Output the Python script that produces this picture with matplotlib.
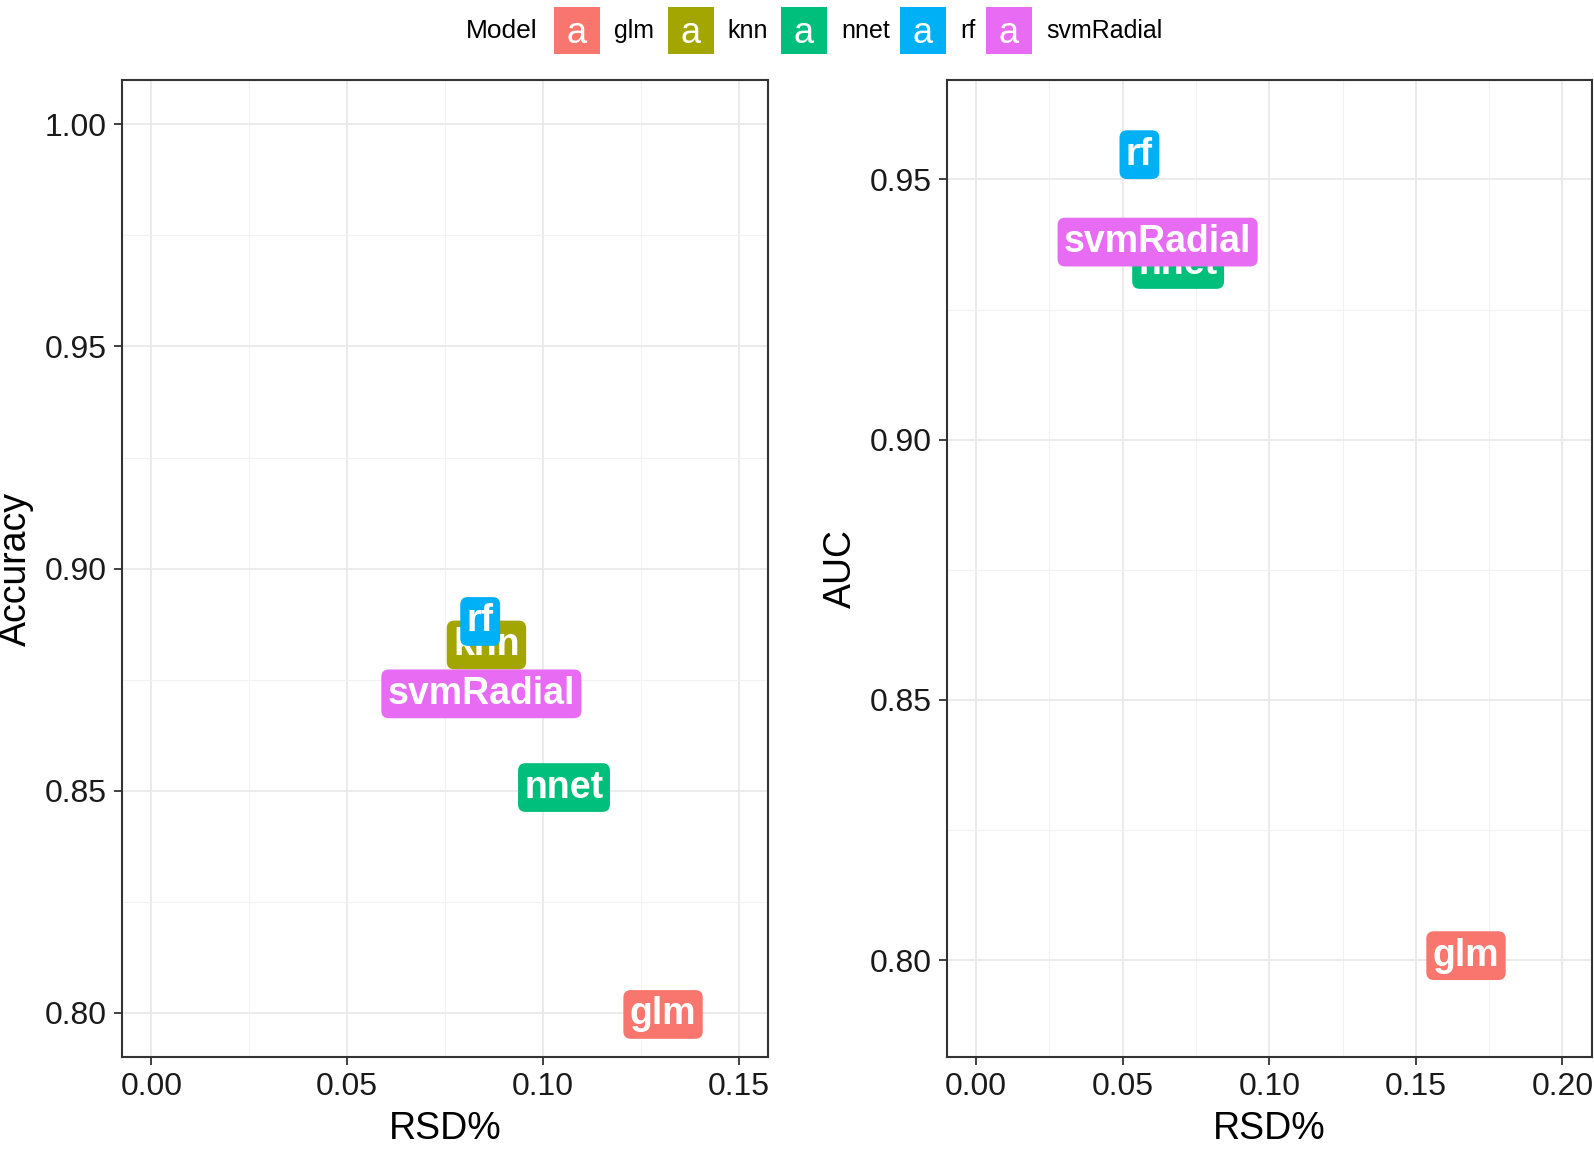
import matplotlib
matplotlib.use("Agg")
import matplotlib.pyplot as plt
import matplotlib.patches as mpatches

plt.rcParams['font.family'] = ['Liberation Sans', 'DejaVu Sans']

# model colours (ggplot hue palette)
models = ['glm', 'knn', 'nnet', 'rf', 'svmRadial']
colors = ['#F8766D', '#A3A500', '#00BF7D', '#00B0F6', '#E76BF3']

# left panel: accuracy vs RSD%
acc_models = ['glm', 'knn', 'nnet', 'rf', 'svmRadial']
acc_rsd = [0.1307, 0.0856, 0.1054, 0.0840, 0.0843]
acc_val = [0.8002, 0.8834, 0.8513, 0.8887, 0.8724]

# right panel: AUC vs RSD%
auc_models = ['glm', 'nnet', 'rf', 'svmRadial']
auc_rsd = [0.1671, 0.0689, 0.0557, 0.0619]
auc_val = [0.8014, 0.9342, 0.9553, 0.9385]

acc_xticks = [0.00, 0.05, 0.10, 0.15]
acc_yticks = [0.80, 0.85, 0.90, 0.95, 1.00]
auc_xticks = [0.00, 0.05, 0.10, 0.15, 0.20]
auc_yticks = [0.80, 0.85, 0.90, 0.95]

col = dict(zip(models, colors))

fig = plt.figure(figsize=(15.94, 11.52), dpi=100)
ax1 = fig.add_axes([0.0765, 0.0825, 0.4053, 0.848])
ax2 = fig.add_axes([0.594, 0.0825, 0.4046, 0.848])


def style(ax, xticks, yticks, xlim, ylim, ylabel):
    ax.set_xticks(xticks)
    ax.set_yticks(yticks)
    ax.set_xticklabels(['%.2f' % t for t in xticks])
    ax.set_yticklabels(['%.2f' % t for t in yticks])
    mx = [(a + b) / 2 for a, b in zip(xticks[:-1], xticks[1:])]
    my = [(a + b) / 2 for a, b in zip(yticks[:-1], yticks[1:])] + [yticks[-1] + 0.025]
    ax.set_xticks(mx, minor=True)
    ax.set_yticks(my, minor=True)
    ax.set_xlim(xlim)
    ax.set_ylim(ylim)
    ax.grid(True, which='major', color='#EBEBEB', lw=1.4)
    ax.grid(True, which='minor', color='#F2F2F2', lw=0.8)
    ax.set_axisbelow(True)
    ax.tick_params(which='major', length=6, width=1.3, color='#333333',
                   labelsize=23, labelcolor='#1a1a1a', pad=5)
    ax.tick_params(which='minor', length=0)
    for s in ax.spines.values():
        s.set_color('#333333')
        s.set_linewidth(1.5)
    ax.set_xlabel('RSD%', fontsize=27, labelpad=6)
    ax.set_ylabel(ylabel, fontsize=27, labelpad=8)


def labels(ax, names, xs, ys):
    for n, x, y in zip(names, xs, ys):
        ax.annotate(n, (x, y), xytext=(0, -2), textcoords='offset points',
                    ha='center', va='center', fontsize=27, fontweight='bold',
                    color='white',
                    bbox=dict(boxstyle='round,pad=0.17,rounding_size=0.2',
                              fc=col[n], ec='none'))


style(ax1, acc_xticks, acc_yticks, (-0.0075, 0.1575), (0.79, 1.01), 'Accuracy')
style(ax2, auc_xticks, auc_yticks, (-0.01, 0.21), (0.7814, 0.9691), 'AUC')
labels(ax1, acc_models, acc_rsd, acc_val)
labels(ax2, auc_models, auc_rsd, auc_val)

# legend across the top
ly = 0.9735
fig.text(0.292, ly, 'Model', fontsize=19, ha='left', va='center')
key_x = [0.3476, 0.419, 0.490, 0.5646, 0.6186]
txt_gap = 0.0376
kw, kh = 0.0288, 0.040
for n, kx in zip(models, key_x):
    fig.add_artist(mpatches.Rectangle((kx, ly - kh / 2), kw, kh,
                                      transform=fig.transFigure, fc=col[n], ec='none'))
    fig.text(kx + kw / 2, ly - 0.003, 'a', fontsize=26, color='white', ha='center', va='center')
    fig.text(kx + txt_gap, ly, n, fontsize=18, ha='left', va='center')

fig.savefig('out.png', dpi=100)
